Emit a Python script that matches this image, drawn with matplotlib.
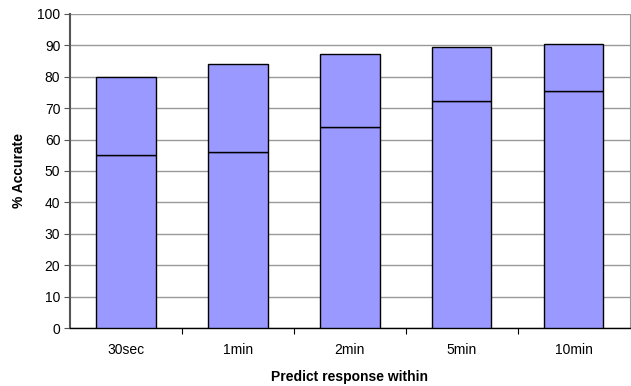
import numpy as np
import matplotlib.pyplot as plt

plt.rcParams['font.family'] = ['Liberation Sans', 'DejaVu Sans']

categories = ['30sec', '1min', '2min', '5min', '10min']
lower = [55.0, 56.0, 64.0, 72.2, 75.6]
total = [80.0, 83.9, 87.1, 89.6, 90.4]
upper = [t - b for t, b in zip(total, lower)]

fig = plt.figure(figsize=(6.31, 3.86), dpi=100)
ax = fig.add_axes([0.111, 0.150, 0.887, 0.814])

x = np.arange(len(categories))
bar_color = '#9999ff'
ax.bar(x, lower, width=0.53, color=bar_color, edgecolor='black', linewidth=1.0, zorder=3)
ax.bar(x, upper, bottom=lower, width=0.53, color=bar_color, edgecolor='black', linewidth=1.0, zorder=3)

ax.set_xlim(-0.5, len(categories) - 0.5)
ax.set_ylim(0, 100)
ax.set_yticks(np.arange(0, 101, 10))
ax.yaxis.grid(True, color='#999999', linewidth=1.0, zorder=0)

# category labels centred under bars, tick marks at the boundaries
ax.set_xticks(np.arange(0.5, len(categories) - 0.5, 1.0))
ax.set_xticklabels([])
ax.set_xticks(x, minor=True)
ax.set_xticklabels(categories, minor=True)
ax.tick_params(axis='x', which='minor', length=0, pad=11, labelsize=10)
ax.tick_params(axis='x', which='major', length=4, direction='out', color='black')
ax.tick_params(axis='y', length=4, direction='out', color='#555555', labelsize=10, pad=3)

ax.spines['top'].set_visible(False)
ax.spines['right'].set_color('#999999')
ax.spines['left'].set_color('#555555')
ax.spines['left'].set_linewidth(1.5)
ax.spines['bottom'].set_color('black')
ax.spines['bottom'].set_linewidth(1.0)

ax.set_xlabel('Predict response within', fontsize=10, fontweight='bold', labelpad=9)
ax.set_ylabel('% Accurate', fontsize=10, fontweight='bold', labelpad=8)

fig.savefig('out.png', dpi=100)
